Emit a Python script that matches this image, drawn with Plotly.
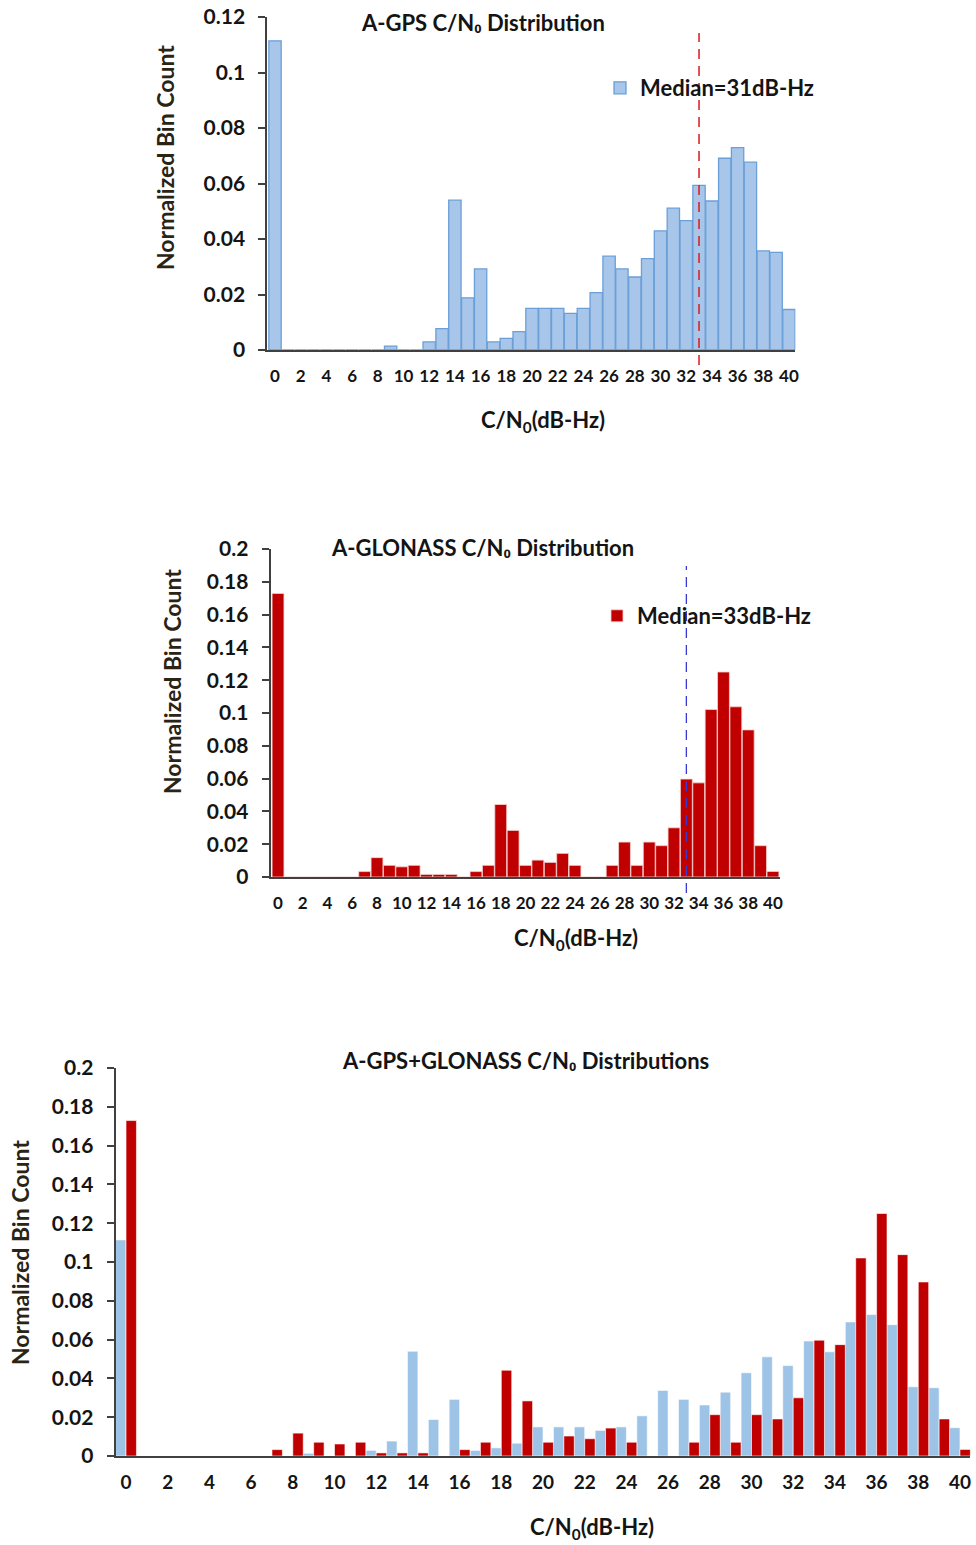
import plotly.graph_objects as go

# C/N0 bins (dB-Hz)
cn0_bins = list(range(0, 41))

# Normalized bin counts, A-GPS
gps_counts = [
    0.1114, 0, 0, 0, 0, 0, 0, 0, 0, 0.0014,
    0, 0, 0.0029, 0.0077, 0.0540, 0.0188, 0.0292, 0.0029, 0.0042, 0.0066,
    0.0150, 0.0150, 0.0150, 0.0132, 0.0150, 0.0207, 0.0338, 0.0292, 0.0263, 0.0329,
    0.0429, 0.0511, 0.0466, 0.0593, 0.0537, 0.0691, 0.0729, 0.0677, 0.0357, 0.0352,
    0.0146,
]

# Normalized bin counts, A-GLONASS
glonass_counts = [
    0.1729, 0, 0, 0, 0, 0, 0, 0.0033, 0.0118, 0.0071,
    0.0062, 0.0071, 0.0016, 0.0016, 0.0016, 0, 0.0033, 0.0071, 0.0442, 0.0284,
    0.0071, 0.0103, 0.0089, 0.0144, 0.0071, 0, 0, 0.0071, 0.0213, 0.0071,
    0.0213, 0.0191, 0.0300, 0.0597, 0.0574, 0.1021, 0.1250, 0.1038, 0.0897, 0.0191,
    0.0034,
]

gps_median_label = "Median=31dB-Hz"
glonass_median_label = "Median=33dB-Hz"
gps_marker_x = 33
glonass_marker_x = 33

titles = [
    "A-GPS C/N₀ Distribution",
    "A-GLONASS C/N₀ Distribution",
    "A-GPS+GLONASS C/N₀ Distributions",
]
x_title = "C/N<sub>0</sub>(dB-Hz)"
y_title = "Normalized Bin Count"

FONT = "Lato"
INK = "#141414"
AXIS = "#404040"
GPS_FILL = "#a7c6ea"
GPS_EDGE = "#6a9fd8"
GPS_LIGHT = "#9dc3e6"
GLO_RED = "#c00000"

W, H = 976, 1545


def px_x(p):
    return p / W


def px_y(p):
    return (H - p) / H


fig = go.Figure()

# top panel: A-GPS
fig.add_trace(go.Bar(
    x=cn0_bins, y=gps_counts, name=gps_median_label,
    marker=dict(color=GPS_FILL, line=dict(color=GPS_EDGE, width=1.3)),
    xaxis="x", yaxis="y", legend="legend",
))

# middle panel: A-GLONASS
fig.add_trace(go.Bar(
    x=cn0_bins, y=glonass_counts, name=glonass_median_label,
    marker=dict(color=GLO_RED, line=dict(color="#f4d0d0", width=0.8)),
    xaxis="x2", yaxis="y2", legend="legend2",
))

# bottom panel: both constellations side by side
fig.add_trace(go.Bar(
    x=cn0_bins, y=gps_counts, name="A-GPS", showlegend=False,
    marker=dict(color=GPS_LIGHT, line=dict(color="#ffffff", width=0.6)),
    xaxis="x3", yaxis="y3", width=0.5, offset=-0.5,
))
fig.add_trace(go.Bar(
    x=cn0_bins, y=glonass_counts, name="A-GLONASS", showlegend=False,
    marker=dict(color=GLO_RED, line=dict(color="#ffffff", width=0.6)),
    xaxis="x3", yaxis="y3", width=0.5, offset=0.0,
))


def bold(size):
    return dict(family=FONT, size=size, color=INK, weight="bold")


def xaxis_cfg(domain, rng, anchor, size, standoff):
    return dict(
        domain=domain, range=rng, anchor=anchor, automargin=False,
        tickmode="linear", tick0=0, dtick=2,
        showgrid=False, zeroline=False,
        showline=True, linecolor=AXIS, linewidth=2,
        ticks="", ticklabelstandoff=standoff,
        tickfont=bold(size),
    )


def yaxis_cfg(domain, rng, dtick, anchor, size):
    return dict(
        domain=domain, range=rng, anchor=anchor, automargin=False,
        tickmode="linear", tick0=0, dtick=dtick,
        showgrid=False, zeroline=False,
        showline=True, linecolor=AXIS, linewidth=2,
        ticks="outside", ticklen=7, tickcolor=AXIS, tickwidth=1.5,
        ticklabelstandoff=9,
        tickfont=bold(size),
    )


fig.update_layout(
    width=W, height=H,
    margin=dict(l=0, r=0, t=0, b=0, autoexpand=False),
    paper_bgcolor="white", plot_bgcolor="white",
    barmode="overlay", bargap=0.04,
    xaxis=xaxis_cfg([px_x(267.3), px_x(795.4)], [-0.6, 40.5], "y", 17, 10),
    yaxis=yaxis_cfg([px_y(350), px_y(17)], [0, 0.12], 0.02, "x", 21),
    xaxis2=xaxis_cfg([px_x(270.6), px_x(780.4)], [-0.6, 40.6], "y2", 17, 10),
    yaxis2=yaxis_cfg([px_y(877), px_y(549)], [0, 0.2], 0.02, "x2", 21),
    xaxis3=xaxis_cfg([px_x(115.6), px_x(970.4)], [-0.5, 40.5], "y3", 19, 8),
    yaxis3=yaxis_cfg([px_y(1456), px_y(1068)], [0, 0.2], 0.02, "x3", 21),
    legend=dict(
        x=px_x(600), y=px_y(88), xanchor="left", yanchor="middle",
        bgcolor="rgba(0,0,0,0)", itemwidth=30,
        font=bold(22),
    ),
    legend2=dict(
        x=px_x(597), y=px_y(616), xanchor="left", yanchor="middle",
        bgcolor="rgba(0,0,0,0)", itemwidth=30,
        font=bold(22),
    ),
)

# median markers
fig.add_shape(type="line", xref="x", yref="y domain",
              x0=gps_marker_x, x1=gps_marker_x, y0=-0.045, y1=0.952,
              line=dict(color="#e01818", width=1.5, dash="10px,7px"))
fig.add_shape(type="line", xref="x2", yref="y2 domain",
              x0=glonass_marker_x, x1=glonass_marker_x, y0=-0.049, y1=0.948,
              line=dict(color="#3a3ad0", width=1.3, dash="10px,7px"))

for text, (cx, cy) in zip(titles, [(483, 22), (482, 547), (525, 1060)]):
    fig.add_annotation(text=text, x=px_x(cx), y=px_y(cy), xref="paper", yref="paper",
                       showarrow=False, font=bold(22), xanchor="center", yanchor="middle")

for cx, cy in [(543, 421), (576, 939), (592, 1528)]:
    fig.add_annotation(text=x_title, x=px_x(cx), y=px_y(cy), xref="paper", yref="paper",
                       showarrow=False, font=bold(22), xanchor="center", yanchor="middle")

for cx, cy in [(165, 158), (172, 682), (20, 1253)]:
    fig.add_annotation(text=y_title, x=px_x(cx), y=px_y(cy), xref="paper", yref="paper",
                       showarrow=False,
                       font=dict(family=FONT, size=23, color="#2a2414", weight="bold"),
                       textangle=-90, xanchor="center", yanchor="middle")

fig.write_html("out.html")
